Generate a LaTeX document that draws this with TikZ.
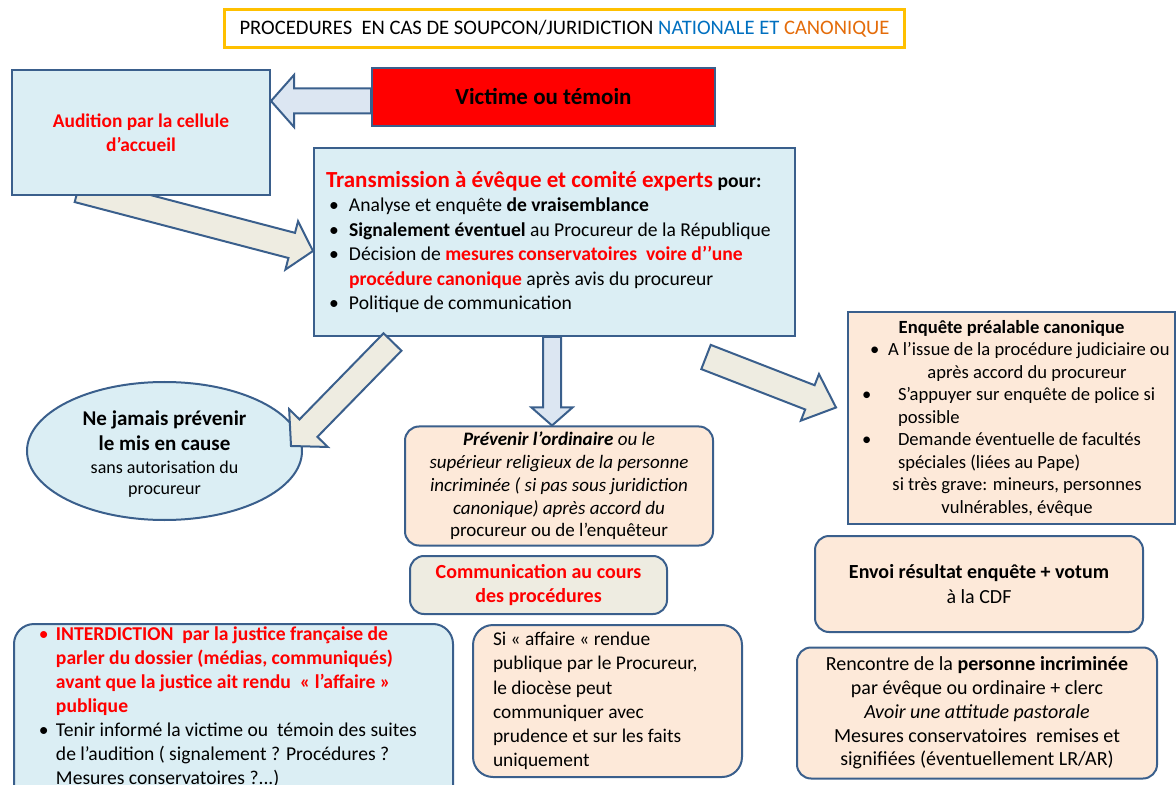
\documentclass[tikz,border=0pt]{standalone}
\usepackage{fontspec}
\setmainfont{Carlito}
\usepackage{tikz}
\usepackage{xcolor}
\usetikzlibrary{calc, shapes.geometric, backgrounds}

\definecolor{boxblue}{HTML}{DBEEF4}
\definecolor{edgeblue}{HTML}{3A5F8C}
\definecolor{peach}{HTML}{FDE9D9}
\definecolor{beige}{HTML}{EEECE1}
\definecolor{arrowblue}{HTML}{DCE6F2}
\definecolor{titleorange}{HTML}{FFC000}
\definecolor{natblue}{HTML}{0070C0}
\definecolor{canorange}{HTML}{E46C0A}

% bullet with a small indent
\newcommand{\bul}{\hspace*{1.5pt}\makebox[10pt][l]{\textbullet}}
% block arrow: [style]{tail}{tip}{half shaft}{half head}{head length}
\newcommand{\blockarrow}[6][]{%
  \coordinate (hb) at ($(#3)!#6!(#2)$);
  \path[#1] ($(#2)!#4!90:(#3)$) -- ($(hb)!#4!-90:(#2)$) -- ($(hb)!#5!-90:(#2)$)
    -- (#3) -- ($(hb)!#5!90:(#2)$) -- ($(hb)!#4!90:(#2)$) -- ($(#2)!#4!-90:(#3)$) -- cycle;
}

\begin{document}
\begin{tikzpicture}[x=0.5pt, y=-0.5pt,
  every node/.style={font=\fontsize{9.5}{12}\selectfont},
  bluebox/.style={draw=edgeblue, line width=1pt, fill=boxblue, inner sep=0pt},
  peachbox/.style={draw=edgeblue, line width=1pt, fill=peach, rounded corners=7pt, inner sep=0pt},
  beigearrow/.style={draw=edgeblue, line width=1pt, fill=beige},
  bluearrow/.style={draw=edgeblue, line width=1pt, fill=arrowblue}]
\useasboundingbox (0,0) rectangle (1176,785);
\clip (0,0) rectangle (1176,785);

% Title
\node[draw=titleorange, line width=1.5pt, fill=white, minimum width=340pt, minimum height=19pt,
  font=\fontsize{10.3}{12}\selectfont] (title) at (564.5,29)
  {PROCEDURES\ \ EN CAS DE SOUPCON/JURIDICTION \textcolor{natblue}{NATIONALE ET} \textcolor{canorange}{CANONIQUE}};

% Top row
\node[bluebox, minimum width=129pt, minimum height=62.5pt, align=center, text=red,
  font=\fontsize{9.7}{12}\selectfont\bfseries] (audition) at (141,133) {Audition par la cellule\\d’accueil};
\node[draw=edgeblue, line width=1pt, fill=red, minimum width=171.5pt, minimum height=29pt,
  font=\fontsize{11.5}{13}\selectfont\bfseries] (victime) at (543.5,97) {Victime ou témoin};

% Transmission
\node[bluebox, minimum height=94pt, text width=228.5pt, inner xsep=6pt, align=flush left,
  font=\fontsize{9.8}{12.2}\selectfont] (transmission) at (554.5,242) {%
  {\fontsize{11.5}{12.2}\selectfont\bfseries\textcolor{red}{Transmission à évêque et comité experts}} \textbf{pour:}\\
  \bul Analyse et enquête \textbf{de vraisemblance}\\
  \bul \textbf{Signalement éventuel} au Procureur de la République\\
  \bul Décision de \textcolor{red}{\bfseries mesures conservatoires\ \ voire d’’une}\\
  \hspace*{11.5pt}\textcolor{red}{\bfseries procédure canonique} après avis du procureur\\
  \bul Politique de communication};

% Left: ellipse
\node[ellipse, draw=edgeblue, line width=1pt, fill=boxblue, minimum width=137.5pt, minimum height=69pt,
  inner sep=0pt] (miscause) at (164.5,451) {};
\node[align=center, font=\fontsize{9}{10.5}\selectfont] (mistext) at ([yshift=-1.5pt]miscause.center)
  {{\fontsize{10.5}{12.5}\selectfont\bfseries Ne jamais prévenir}\\[2pt]
   {\fontsize{10.5}{12.5}\selectfont\bfseries le mis en cause}\\[1pt]
   sans autorisation du\\procureur};

% Middle column
\node[peachbox, minimum width=154pt, minimum height=59.5pt, align=center,
  font=\fontsize{9.5}{11.4}\selectfont\itshape] (prevenir) at (559,486)
  {\textbf{Prévenir l’ordinaire} ou le\\supérieur religieux de la personne\\incriminée ( si pas sous juridiction\\canonique) après accord du\\\upshape procureur ou de l’enquêteur};
\node[peachbox, fill=beige, minimum width=128.5pt, minimum height=29pt, align=center, text=red,
  font=\fontsize{10}{12}\selectfont\bfseries] (comm) at (538.5,585) {Communication au cours\\des procédures};
\node[peachbox, rounded corners=10pt, minimum height=76pt, text width=114.5pt, inner xsep=10pt,
  align=flush left, font=\fontsize{9.7}{12.1}\selectfont] (siaffaire) at (607.5,701)
  {Si « affaire « rendue\\publique par le Procureur,\\le diocèse peut\\communiquer avec\\prudence et sur les faits\\uniquement};

% Right column
\node[bluebox, fill=peach, minimum height=105.5pt, text width=159pt, inner xsep=2.25pt, align=flush left,
  font=\fontsize{9.3}{11.25}\selectfont] (enquete) at (1011.5,418) {%
  \makebox[159pt]{\textbf{Enquête préalable canonique}}\\
  \hspace*{8.75pt}\makebox[9pt][l]{\textbullet}A l’issue de la procédure judiciaire ou\\
  \makebox[159pt]{\hspace*{15.5pt}après accord du procureur}\\
  \hspace*{4.75pt}\makebox[18pt][l]{\textbullet}S’appuyer sur enquête de police si\\
  \hspace*{22.75pt}possible\\
  \hspace*{4.75pt}\makebox[18pt][l]{\textbullet}Demande éventuelle de facultés\\
  \hspace*{22.75pt}spéciales (liées au Pape)\\
  \makebox[159pt]{\hspace*{5.5pt}si très grave: mineurs, personnes}\\
  \makebox[159pt]{\hspace*{5.5pt}vulnérables, évêque}};
\node[peachbox, minimum width=164pt, minimum height=48pt, align=center,
  font=\fontsize{10}{12.5}\selectfont] (envoi) at (979,584) {\textbf{Envoi résultat enquête + votum}\\à la CDF};
\node[peachbox, minimum width=180pt, minimum height=65.5pt, align=center,
  font=\fontsize{10}{11.9}\selectfont] (rencontre) at (977,713)
  {Rencontre de la \textbf{personne incriminée}\\par évêque ou ordinaire + clerc\\\textit{Avoir une attitude pastorale}\\Mesures conservatoires\ \ remises et\\signifiées (éventuellement LR/AR)};

% Bottom left
\node[bluebox, rounded corners=10pt, anchor=north west, text width=194.5pt, inner xsep=12.5pt,
  inner ysep=1.5pt, align=flush left, font=\fontsize{9.8}{12}\selectfont] (interdiction) at (13,623) {%
  \textcolor{red}{\makebox[8.5pt][l]{\textbullet}\bfseries INTERDICTION\ \ par la justice française de}\\
  \hspace*{8.5pt}\textcolor{red}{\bfseries parler du dossier (médias, communiqués)}\\
  \hspace*{8.5pt}\textcolor{red}{\bfseries avant que la justice ait rendu\ \ « l’affaire »}\\
  \hspace*{8.5pt}\textcolor{red}{\bfseries publique}\\
  \makebox[8.5pt][l]{\textbullet}Tenir informé la victime ou\ \ témoin des suites\\
  \hspace*{8.5pt}de l’audition ( signalement ? Procédures ?\\
  \hspace*{8.5pt}Mesures conservatoires ?...)\\
  \strut};

% Block arrows
\coordinate (vtail) at ([yshift=-2pt]victime.west);
\coordinate (vtip) at (audition.east |- vtail);
\blockarrow[bluearrow]{vtail}{vtip}{6.25pt}{13pt}{11.5pt}

\coordinate (atail) at ([xshift=-31.5pt,yshift=3.5pt]audition.south);
\coordinate (atip) at ([yshift=-4.5pt]transmission.west);
\begin{scope}[on background layer]
\blockarrow[beigearrow]{atail}{atip}{6.5pt}{12.5pt}{11pt}
\end{scope}

\coordinate (mtail) at ([xshift=-81pt,yshift=-2.5pt]transmission.south);
\coordinate (mtip) at ([xshift=-6pt,yshift=2.5pt]miscause.east);
\blockarrow[beigearrow]{mtail}{mtip}{6.25pt}{13.5pt}{12.5pt}

\coordinate (ptail) at ([xshift=-1.25pt]transmission.south);
\coordinate (ptip) at (ptail |- prevenir.north);
\blockarrow[bluearrow]{ptail}{ptip}{4.5pt}{10.25pt}{9pt}

\coordinate (etail) at ([xshift=-45pt,yshift=-10pt]transmission.south east);
\coordinate (etip) at ([xshift=-5.5pt,yshift=5.25pt]enquete.west);
\blockarrow[beigearrow]{etail}{etip}{6.5pt}{12.5pt}{14pt}
\end{tikzpicture}
\end{document}
